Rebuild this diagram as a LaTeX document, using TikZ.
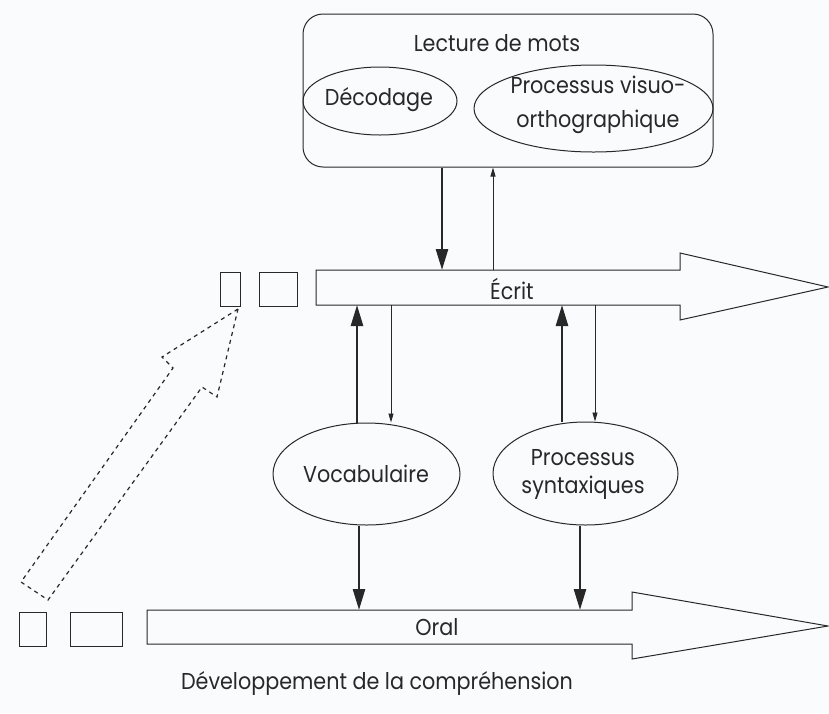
\documentclass[tikz,border=0pt]{standalone}
\usepackage{fontspec}
\setmainfont{Poppins}[FakeStretch=0.9]
\usetikzlibrary{arrows.meta,shapes.geometric}
\definecolor{ink}{RGB}{40,40,40}
\definecolor{paper}{RGB}{250,251,253}
\tikzset{
  lbl/.style={font=\fontsize{23}{30}\selectfont, text=ink, inner sep=0pt, align=center},
  shape line/.style={draw=ink, line width=1pt},
  ell/.style={ellipse, shape line, inner sep=0pt},
  smallbox/.style={rectangle, shape line, inner sep=0pt},
  thickarr/.style={draw=ink, line width=2.6pt, -{Triangle[length=21pt,width=12pt]}},
  thinarr/.style={draw=ink, line width=0.9pt, -{Triangle[length=9pt,width=5pt]}},
  dashedshape/.style={draw=ink, line width=1.2pt, dash pattern=on 4pt off 4pt},
}
\begin{document}
\begin{tikzpicture}[x=1pt,y=-1pt]
\fill[paper] (0,0) rectangle (829,713);
\useasboundingbox (0,0) rectangle (829,713);

% top box
\node[rectangle, shape line, rounded corners=20pt, minimum width=410pt, minimum height=153pt, inner sep=0pt] (lect) at (508,90.5) {};
\node[lbl] (lecttxt) at (497,43) {Lecture de mots};
\node[ell, minimum width=154pt, minimum height=68pt] (dec) at (380,101) {};
\node[lbl] (dectxt) at (379,100) {Décodage};
\node[ell, minimum width=239pt, minimum height=87pt] (vis) at (593.5,108.5) {};
\node[lbl, font=\fontsize{23}{34}\selectfont] (vistxt) at (598,105) {Processus visuo-\\orthographique};

% Ecrit arrow
\draw[shape line] (316,270) -- (680,270) -- (680,253) -- (828,287) -- (680,320) -- (680,305) -- (316,305) -- cycle;
\node[lbl] (ecrit) at (512,289) {Écrit};
\node[smallbox, minimum width=20pt, minimum height=34pt] (es1) at (230,289) {};
\node[smallbox, minimum width=38pt, minimum height=34pt] (es2) at (278,289) {};

% Oral arrow
\draw[shape line] (147,610) -- (632,610) -- (632,592) -- (828,626) -- (632,659) -- (632,644) -- (147,644) -- cycle;
\node[lbl] (oral) at (437,627) {Oral};
\node[smallbox, minimum width=27pt, minimum height=34pt] (os1) at (32.5,629) {};
\node[smallbox, minimum width=52pt, minimum height=34pt] (os2) at (96,629) {};

% middle ellipses
\node[ell, minimum width=187pt, minimum height=102pt] (voc) at (366.5,474) {};
\node[lbl] (voctxt) at (366,474) {Vocabulaire};
\node[ell, minimum width=185pt, minimum height=103pt] (syn) at (585.5,473.5) {};
\node[lbl, font=\fontsize{23}{28}\selectfont] (syntxt) at (583,474) {Processus\\syntaxiques};

% connector coordinates
\coordinate (d1) at (442,270);
\coordinate (u1) at (493,270);
\coordinate (v1) at (357,305);
\coordinate (v2) at (391,305);
\coordinate (p1) at (562,305);
\coordinate (p2) at (595,305);
\coordinate (o1) at (359,610);
\coordinate (o2) at (580,610);

\draw[thickarr] (lect.south -| d1) -- (d1);
\draw[thinarr] (u1) -- (lect.south -| u1);
\draw[thickarr] (voc.north -| v1) -- (v1);
\draw[thinarr] (v2) -- (voc.north -| v2);
\draw[thickarr] (syn.north -| p1) -- (p1);
\draw[thinarr] (p2) -- (syn.north -| p2);
\draw[thickarr] (voc.south -| o1) -- (o1);
\draw[thickarr] (syn.south -| o2) -- (o2);

% dashed block arrow
\draw[dashedshape] (238,309) -- (162,357) -- (173,368) -- (21,582) -- (48,600) -- (202,387) -- (217,397) -- cycle;

% caption
\node[lbl] (dev) at (377,683) {Développement de la compréhension};
\end{tikzpicture}
\end{document}
